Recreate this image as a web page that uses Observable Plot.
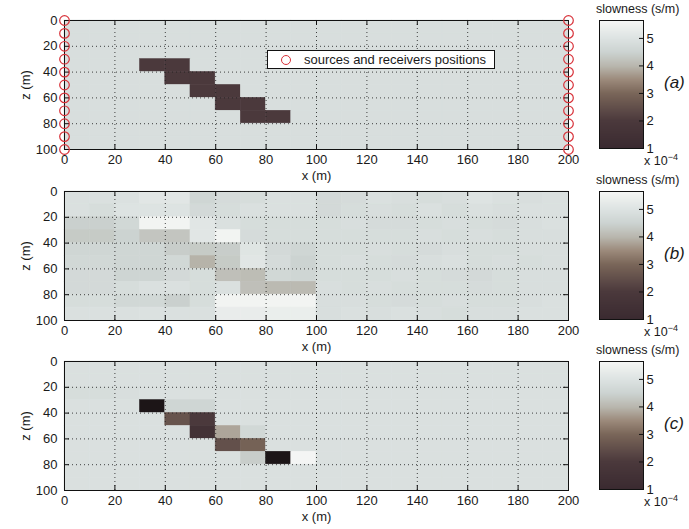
<!DOCTYPE html>
<html><head><meta charset="utf-8">
<script src="https://cdn.jsdelivr.net/npm/d3@7"></script>
<script src="https://cdn.jsdelivr.net/npm/@observablehq/plot@0.6"></script>
<style>
body{margin:0;background:#fff;}
#root{position:relative;width:689px;height:529px;overflow:hidden;font-family:"Liberation Sans",Arial,sans-serif;color:#1a1a1a;background:#fff;}
.abs{position:absolute;}
.cbtitle{font-size:12.5px;white-space:nowrap;}
.exp{font-size:12.5px;white-space:nowrap;}
.exp sup{font-size:9px;}
.plabel{font-size:17px;font-style:italic;}
.legend{border:1px solid #111;background:#fff;font-size:13px;box-sizing:border-box;white-space:nowrap;}
.legend .mk{position:absolute;left:13px;top:4px;width:8px;height:8px;border:1.3px solid #d8323a;border-radius:50%;}
.legend .tx{position:absolute;left:36px;top:1px;}
</style></head><body><div id="root"></div>
<script>
// ---------- data ----------
const cellSize = 10;
const xCells = [0,10,20,30,40,50,60,70,80,90,100,110,120,130,140,150,160,170,180,190];
const zCells = [0,10,20,30,40,50,60,70,80,90];
const xTicks = [0,20,40,60,80,100,120,140,160,180,200];
const zTicks = [0,20,40,60,80,100];
const colorbarTicks = [1,2,3,4,5];
const sensorX = [0,200];
const sensorZ = [0,10,20,30,40,50,60,70,80,90,100];
const panelLabels = ["(a)","(b)","(c)"];
const colorbarTitle = "slowness (s/m)";
const legendLabel = "sources and receivers positions";

// slowness (x 10^-4 s/m), rows = z cells, columns = x cells
const slownessA = [
 [4.85,4.85,4.85,4.85,4.85,4.85,4.85,4.85,4.85,4.85,4.85,4.85,4.85,4.85,4.85,4.85,4.85,4.85,4.85,4.85],
 [4.85,4.85,4.85,4.85,4.85,4.85,4.85,4.85,4.85,4.85,4.85,4.85,4.85,4.85,4.85,4.85,4.85,4.85,4.85,4.85],
 [4.85,4.85,4.85,4.85,4.85,4.85,4.85,4.85,4.85,4.85,4.85,4.85,4.85,4.85,4.85,4.85,4.85,4.85,4.85,4.85],
 [4.85,4.85,4.85,2.0,2.0,4.85,4.85,4.85,4.85,4.85,4.85,4.85,4.85,4.85,4.85,4.85,4.85,4.85,4.85,4.85],
 [4.85,4.85,4.85,4.85,2.0,2.0,4.85,4.85,4.85,4.85,4.85,4.85,4.85,4.85,4.85,4.85,4.85,4.85,4.85,4.85],
 [4.85,4.85,4.85,4.85,4.85,2.0,2.0,4.85,4.85,4.85,4.85,4.85,4.85,4.85,4.85,4.85,4.85,4.85,4.85,4.85],
 [4.85,4.85,4.85,4.85,4.85,4.85,2.0,2.0,4.85,4.85,4.85,4.85,4.85,4.85,4.85,4.85,4.85,4.85,4.85,4.85],
 [4.85,4.85,4.85,4.85,4.85,4.85,4.85,2.0,2.0,4.85,4.85,4.85,4.85,4.85,4.85,4.85,4.85,4.85,4.85,4.85],
 [4.85,4.85,4.85,4.85,4.85,4.85,4.85,4.85,4.85,4.85,4.85,4.85,4.85,4.85,4.85,4.85,4.85,4.85,4.85,4.85],
 [4.85,4.85,4.85,4.85,4.85,4.85,4.85,4.85,4.85,4.85,4.85,4.85,4.85,4.85,4.85,4.85,4.85,4.85,4.85,4.85]
];
const slownessB = [
 [4.9,4.9,4.95,5.1,5.1,4.6,4.75,4.8,4.9,4.9,4.7,4.75,4.9,4.85,4.8,4.85,5.0,4.9,4.85,4.9],
 [4.9,4.8,5.0,5.0,5.0,4.7,4.8,4.9,4.9,4.9,4.7,4.8,4.85,4.8,4.9,4.8,4.9,4.85,4.9,4.9],
 [4.45,4.45,4.65,5.55,5.55,5.1,4.9,4.8,4.8,4.8,4.8,4.85,4.75,4.75,4.8,4.85,4.8,4.75,4.85,4.9],
 [4.35,4.35,4.5,4.25,4.25,5.1,5.55,4.75,4.8,4.8,4.8,4.8,4.8,4.8,4.85,4.8,4.85,4.8,4.85,4.85],
 [4.6,4.6,4.6,4.6,4.4,4.35,4.4,5.05,4.7,4.6,4.8,4.8,4.85,4.8,4.75,4.85,4.8,4.8,4.85,4.85],
 [4.65,4.65,4.6,4.6,4.65,3.95,4.35,5.1,4.75,4.5,4.8,4.85,4.8,4.75,4.85,4.9,4.8,4.85,4.8,4.85],
 [4.7,4.7,4.55,4.55,4.7,4.8,4.15,4.1,4.65,4.6,4.8,4.8,4.8,4.85,4.8,4.75,4.7,4.8,4.85,4.85],
 [4.7,4.7,4.8,4.9,4.9,4.8,4.9,4.15,4.05,4.05,4.85,4.8,4.85,4.8,4.8,4.8,4.75,4.8,4.85,4.85],
 [4.8,4.8,4.65,4.65,4.45,4.8,5.55,5.55,5.55,5.55,4.85,4.85,4.8,4.75,4.8,4.85,4.8,4.8,4.85,4.9],
 [4.9,4.9,4.9,4.95,4.9,4.9,5.3,5.3,5.35,5.35,4.85,4.9,4.85,4.9,4.85,4.8,4.85,4.85,4.9,4.9]
];
const slownessC = [
 [4.9,4.9,4.9,4.9,4.9,4.9,4.9,4.9,4.9,4.9,4.9,4.9,4.9,4.9,4.9,4.9,4.9,4.9,4.9,4.9],
 [4.9,4.9,4.9,4.9,4.9,4.9,4.9,4.9,4.9,4.9,4.9,4.9,4.9,4.9,4.9,4.9,4.9,4.9,4.9,4.9],
 [4.8,4.8,4.85,4.9,4.9,4.9,4.9,4.9,4.9,4.9,4.9,4.9,4.9,4.9,4.9,4.9,4.9,4.9,4.9,4.9],
 [4.9,4.9,4.9,0.8,4.6,4.6,4.9,4.9,4.9,4.9,4.9,4.9,4.9,4.9,4.9,4.9,4.9,4.9,4.9,4.9],
 [4.9,4.9,4.9,4.9,2.6,2.0,4.9,4.9,4.9,4.9,4.9,4.9,4.9,4.9,4.9,4.9,4.9,4.9,4.9,4.9],
 [4.9,4.9,4.9,4.9,4.9,1.5,3.8,4.65,4.9,4.9,4.9,4.9,4.9,4.9,4.9,4.9,4.9,4.9,4.9,4.9],
 [4.9,4.9,4.9,4.9,4.9,4.9,2.5,2.9,4.9,4.9,4.9,4.9,4.9,4.9,4.9,4.9,4.9,4.9,4.9,4.9],
 [4.9,4.9,4.9,4.9,4.9,4.9,4.9,4.4,0.8,5.6,4.9,4.9,4.9,4.9,4.9,4.9,4.9,4.9,4.9,4.9],
 [4.9,4.9,4.9,4.9,4.9,4.9,4.9,4.9,4.9,4.9,4.9,4.9,4.9,4.9,4.9,4.9,4.9,4.9,4.9,4.9],
 [4.9,4.9,4.9,4.9,4.9,4.9,4.9,4.9,4.9,4.9,4.9,4.9,4.9,4.9,4.9,4.9,4.9,4.9,4.9,4.9]
];
const panels = [slownessA, slownessB, slownessC];

// colormap
const colorStops = [0.7, 1, 2, 3, 3.5, 4, 4.5, 5, 5.65];
const colorRange = ["#0d0a0a","#3a2a30","#4b393c","#7a6659","#9c8a7b","#b9b7ae","#ccd3d1","#dde3e2","#f6f7f5"];
const colorScale = {type: "linear", domain: colorStops, range: colorRange, clamp: true};

// ---------- layout ----------
const root = document.getElementById("root");
const panelTop = [0, 171, 341];
const W = 600, H = 185, mL = 64, mR = 32, mT = 20, mB = 36;
const innerW = W - mL - mR, innerH = H - mT - mB;

function place(el, left, top) {
  el.classList.add("abs");
  el.style.left = left + "px"; el.style.top = top + "px";
  root.appendChild(el);
  return el;
}
function div(cls, html) { const d = document.createElement("div"); d.className = cls; d.innerHTML = html; return d; }

panels.forEach((grid, p) => {
  const T = panelTop[p];
  const table = zCells.flatMap((z, i) => xCells.map((x, j) => ({x, z, v: grid[i][j]})));
  const marks = [
    Plot.rect(table, {x1: "x", x2: d => d.x + cellSize, y1: "z", y2: d => d.z + cellSize, fill: "v", stroke: "v", strokeWidth: 0.6}),
    Plot.gridX(xTicks, {stroke: "#222", strokeOpacity: 0.85, strokeDasharray: "1,3"}),
    Plot.gridY(zTicks, {stroke: "#222", strokeOpacity: 0.85, strokeDasharray: "1,3"}),
    Plot.tickX(xTicks, {x: d => d, insetBottom: innerH - 5, stroke: "#111"}),
    Plot.tickX(xTicks, {x: d => d, insetTop: innerH - 5, stroke: "#111"}),
    Plot.tickY(zTicks, {y: d => d, insetRight: innerW - 5, stroke: "#111"}),
    Plot.tickY(zTicks, {y: d => d, insetLeft: innerW - 5, stroke: "#111"}),
    Plot.frame({stroke: "#111"}),
    Plot.axisX(xTicks, {anchor: "bottom", tickSize: 0, tickPadding: 5, label: "x (m)", labelAnchor: "center", labelArrow: "none", labelOffset: 30}),
    Plot.axisY(zTicks, {anchor: "left", tickSize: 0, tickPadding: 7, label: "z (m)", labelAnchor: "center", labelArrow: "none", labelOffset: 44})
  ];
  if (p === 0) {
    const sensors = sensorX.flatMap(x => sensorZ.map(z => ({x, z})));
    marks.push(Plot.dot(sensors, {x: "x", y: "z", r: 4.8, stroke: "#d8323a", strokeWidth: 1.2, fill: "none"}));
  }
  const chart = Plot.plot({
    width: W, height: H, marginLeft: mL, marginRight: mR, marginTop: mT, marginBottom: mB,
    style: {background: "transparent", fontSize: "13px", fontFamily: "'Liberation Sans', Arial, sans-serif", color: "#1a1a1a", overflow: "visible"},
    x: {domain: [0, 200]},
    y: {domain: [0, 100], reverse: true},
    color: colorScale,
    marks
  });
  place(chart, 0, T);

  // colorbar
  const cbW = 44, cbL = 10;
  const cb = Plot.plot({
    width: 100, height: 170, marginLeft: cbL, marginRight: 100 - cbL - cbW, marginTop: 20, marginBottom: 22,
    style: {background: "transparent", fontSize: "13px", fontFamily: "'Liberation Sans', Arial, sans-serif", color: "#1a1a1a", overflow: "visible"},
    x: {domain: [0, 1], axis: null},
    y: {domain: [1, 5.65]},
    color: colorScale,
    marks: [
      Plot.raster({x1: 0, x2: 1, y1: 1, y2: 5.65, width: 1, height: 256, fill: (x, y) => y, imageRendering: "auto"}),
      Plot.tickY(colorbarTicks, {y: d => d, insetLeft: cbW - 4, stroke: "#111"}),
      Plot.frame({stroke: "#111"}),
      Plot.axisY(colorbarTicks, {anchor: "right", tickSize: 0, tickPadding: 3, label: null})
    ]
  });
  place(cb, 589, T);
  place(div("cbtitle", colorbarTitle), 596, T + 2);
  place(div("exp", "x 10<sup>\u22124</sup>"), 644, T + 152);
  place(div("plabel", panelLabels[p]), 664, T + 73);
});

// legend box for panel (a)
const lg = div("legend", '<span class="mk abs"></span><span class="tx">' + legendLabel + '</span>');
lg.style.width = "228px"; lg.style.height = "19px";
place(lg, 267, 50);
</script>
</body></html>
